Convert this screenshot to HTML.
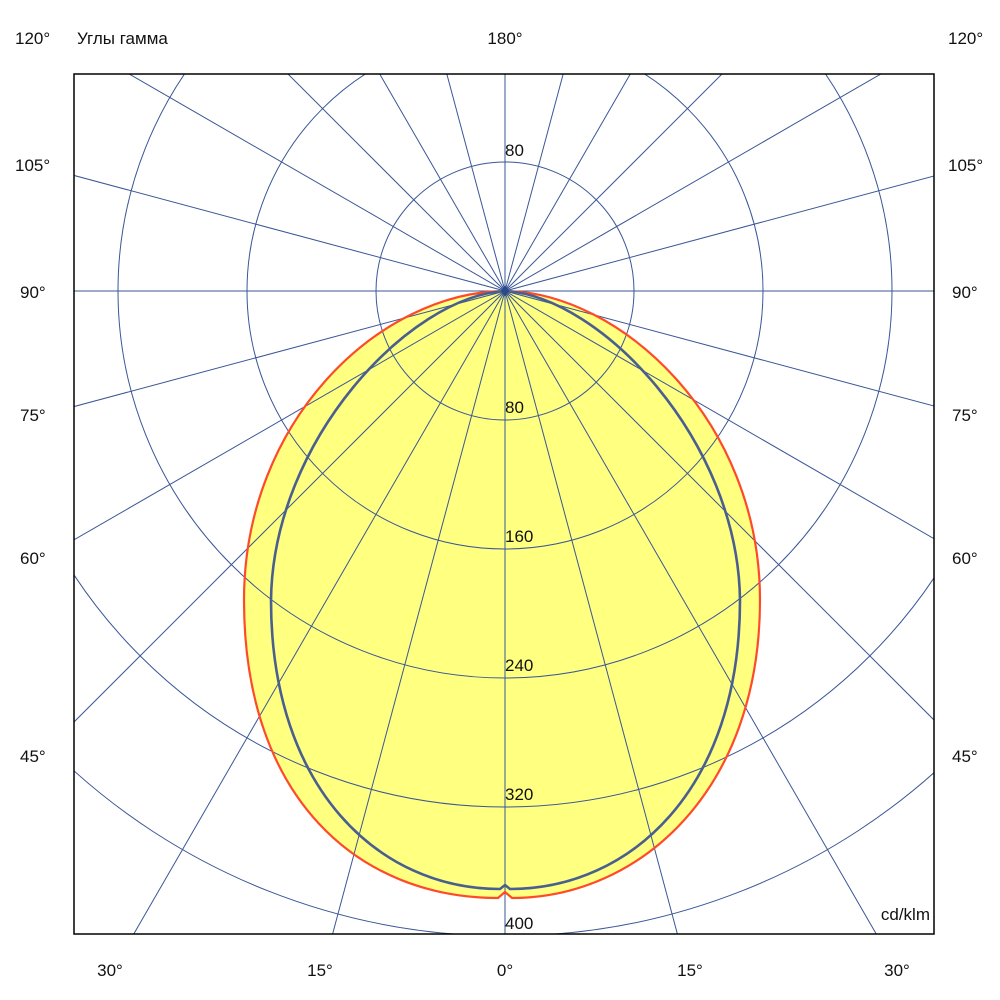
<!DOCTYPE html>
<html><head><meta charset="utf-8"><style>
html,body{margin:0;background:#fff;overflow:hidden;width:1000px;height:1000px;}
svg{display:block;}
svg text{font-family:"Liberation Sans","Noto Sans CJK JP",sans-serif;font-size:17px;fill:#111;}
</style></head><body>
<svg width="1000" height="1000" xmlns="http://www.w3.org/2000/svg">
<defs><clipPath id="c"><rect x="74" y="74" width="860" height="860"/></clipPath></defs>
<rect width="1000" height="1000" fill="#fff"/>
<g clip-path="url(#c)">
<path fill="#ffff80" stroke="none" d="M505,291 C380,292 244,420 244,600 C244,800 360,898 498,898 L505,892 L512,898 C640,898 760,790 760,600 C760,420 620,292 505,291Z"/>
<g stroke="#3a5796" stroke-width="1" fill="none">
<circle cx="505" cy="291" r="129"/><circle cx="505" cy="291" r="258"/><circle cx="505" cy="291" r="387"/><circle cx="505" cy="291" r="516"/><circle cx="505" cy="291" r="645"/>
<line x1="505" y1="-709" x2="505" y2="1291"/>
<line x1="764" y1="1257" x2="246" y2="-675"/>
<line x1="1005" y1="1157" x2="5" y2="-575"/>
<line x1="1212" y1="998" x2="-202" y2="-416"/>
<line x1="1371" y1="791" x2="-361" y2="-209"/>
<line x1="1471" y1="550" x2="-461" y2="32"/>
<line x1="-500" y1="291" x2="1500" y2="291"/>
<line x1="1471" y1="32" x2="-461" y2="550"/>
<line x1="1371" y1="-209" x2="-361" y2="791"/>
<line x1="1212" y1="-416" x2="-202" y2="998"/>
<line x1="1005" y1="-575" x2="5" y2="1157"/>
<line x1="764" y1="-675" x2="246" y2="1257"/>
</g>
<path fill="none" stroke="#ff4a2a" stroke-width="2.2" d="M505,291 C380,292 244,420 244,600 C244,800 360,898 498,898 L505,892 L512,898 C640,898 760,790 760,600 C760,420 620,292 505,291Z"/>
<path fill="none" stroke="#4a5f8f" stroke-width="2.6" d="M505,291 C410,296 273,440 271,600 C271,790 380,889 500,889 L505,885 L510,889 C630,889 740,790 740,600 C738,440 600,296 505,291Z"/>
<path d="M505,285 L509,291 L505,297 L501,291Z" fill="#2a4a8a"/>
</g>
<rect x="74" y="74" width="860" height="860" fill="none" stroke="#000" stroke-width="1.5"/>
<text x="15" y="44">120°</text>
<text x="77" y="44">Углы гамма</text>
<text x="505" y="44" text-anchor="middle">180°</text>
<text x="948" y="44">120°</text>
<text x="15" y="171">105°</text><text x="948" y="171">105°</text>
<text x="20" y="298">90°</text><text x="952" y="298">90°</text>
<text x="20" y="421">75°</text><text x="952" y="421">75°</text>
<text x="20" y="564">60°</text><text x="952" y="564">60°</text>
<text x="20" y="762">45°</text><text x="952" y="762">45°</text>
<text x="110" y="976" text-anchor="middle">30°</text>
<text x="320" y="976" text-anchor="middle">15°</text>
<text x="505" y="976" text-anchor="middle">0°</text>
<text x="690" y="976" text-anchor="middle">15°</text>
<text x="897" y="976" text-anchor="middle">30°</text>
<text x="505" y="156">80</text>
<text x="505" y="413">80</text>
<text x="505" y="542">160</text>
<text x="505" y="671">240</text>
<text x="505" y="800">320</text>
<text x="505" y="929">400</text>
<text x="930" y="920" text-anchor="end">cd/klm</text>
</svg>
</body></html>
